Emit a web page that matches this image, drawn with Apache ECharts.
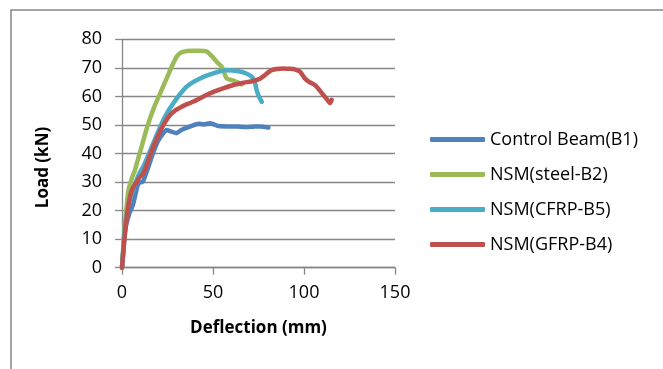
<!DOCTYPE html>
<html>
<head>
<meta charset="utf-8">
<script src="https://cdn.jsdelivr.net/npm/echarts@6/dist/echarts.min.js"></script>
<style>
  html, body { margin: 0; padding: 0; background: #fff; }
  #chart { width: 663px; height: 369px; }
</style>
</head>
<body>
<div id="chart"></div>
<script>
// Load-deflection curves (deflection in mm, load in kN)
const seriesNames = ['Control Beam(B1)', 'NSM(steel-B2)', 'NSM(CFRP-B5)', 'NSM(GFRP-B4)'];
const seriesColors = ['#4F81BD', '#9BBB59', '#4BACC6', '#C0504D'];

const b1X = [0, 1, 2, 4, 6, 9, 11.5, 14.5, 17, 19.5, 22, 24.5, 27, 30, 32, 34.6, 38, 42, 45, 48.4, 50.5, 53, 58, 63, 68, 72, 76, 80.4];
const b1Y = [0, 8, 14, 19, 22, 29.5, 30.2, 35.4, 40, 44, 46.5, 48.2, 47.7, 47.1, 48, 48.8, 49.6, 50.4, 50.2, 50.6, 50.2, 49.6, 49.5, 49.5, 49.3, 49.4, 49.5, 49.1];

const b2X = [0, 1, 2, 3.5, 5.5, 7.1, 9, 10.8, 13, 15.4, 18, 20.9, 24, 27.3, 30, 32, 34, 37.4, 42, 46.5, 48.5, 50.5, 52.5, 54.8, 56, 57.5, 61.2, 65.8];
const b2Y = [0, 10, 18, 27, 31.5, 34.2, 38.5, 42.4, 47.5, 52.3, 56.8, 61, 65.5, 70.4, 73.9, 75.2, 75.7, 76, 76, 75.8, 74.6, 73.3, 71.8, 70.4, 68.5, 66.3, 65.5, 64.2];

const b5X = [0, 1, 2, 4, 7, 9.5, 11.7, 14.5, 17.2, 20, 22.7, 25.5, 28.2, 31.5, 35.5, 39, 42.9, 46.5, 50.2, 54, 57.5, 61, 64.8, 68, 71.3, 72.8, 74, 75.3, 76.8];
const b5Y = [0, 9, 16, 23, 29, 33, 35.4, 39.5, 43.6, 47.8, 51.7, 55, 57.6, 60.5, 63.4, 65, 66.3, 67.3, 68.1, 68.8, 69.2, 69.1, 68.7, 68.1, 66.9, 65.5, 62.2, 59.8, 58.1];

const b4X = [0, 0.8, 1.6, 3, 4.4, 6, 8.1, 9.8, 11.7, 14.5, 17.2, 20, 23, 26.4, 29.5, 32.8, 37, 41, 45.5, 50.2, 55.5, 61.2, 67, 72, 76, 78.6, 80.5, 82.3, 85, 88.6, 92, 94.1, 96, 97.8, 100.5, 103, 106, 108.5, 110.6, 112.8, 114.3, 115.2];
const b4Y = [0, 6, 12, 19.5, 24.9, 28, 30.1, 31.8, 33, 37.8, 42.4, 46.5, 50.3, 53.5, 55.2, 56.4, 57.6, 58.7, 60.2, 61.6, 62.8, 64, 64.8, 65.4, 66.3, 67.5, 68.5, 69.2, 69.6, 69.8, 69.7, 69.6, 69.2, 68.7, 66.3, 65, 64, 62.2, 60.5, 58.8, 57.6, 58.8];

const xTicks = [0, 50, 100, 150];
const yTicks = [0, 10, 20, 30, 40, 50, 60, 70, 80];

const pairs = (xs, ys) => xs.map((x, i) => [x, ys[i]]);
const curves = [pairs(b1X, b1Y), pairs(b2X, b2Y), pairs(b5X, b5Y), pairs(b4X, b4Y)];

const font = 'Open Sans';
const gray = '#868686';

const chart = echarts.init(document.getElementById('chart'), null, { renderer: 'canvas' });

const option = {
  animation: false,
  backgroundColor: '#fff',
  textStyle: { fontFamily: font, color: '#000' },
  // outer chart frame (left and top edges visible in the crop)
  graphic: [{
    type: 'rect',
    shape: { x: 11, y: 10, width: 700, height: 420 },
    style: { fill: 'none', stroke: gray, lineWidth: 1.5 },
    silent: true, z: -1
  }],
  grid: { left: 122, right: 268, top: 39.3, bottom: 101.3 },
  legend: {
    orient: 'vertical',
    left: 425,
    top: 125.5,
    icon: 'roundRect',
    itemWidth: 55,
    itemHeight: 5,
    itemGap: 17,
    textStyle: { fontFamily: font, fontSize: 18, color: '#000' },
    data: seriesNames
  },
  xAxis: {
    type: 'value',
    min: 0, max: 150, interval: 50,
    name: 'Deflection (mm)',
    nameLocation: 'middle',
    nameGap: 52,
    nameTextStyle: { fontFamily: font, fontSize: 17, fontWeight: 'bold', color: '#000' },
    axisLine: { show: true, onZero: false, lineStyle: { color: gray, width: 1.3 } },
    axisTick: { show: true, length: 7, lineStyle: { color: gray, width: 1.3 } },
    axisLabel: { margin: 16, fontSize: 18, color: '#000',
      formatter: v => xTicks.includes(v) ? String(v) : '' },
    splitLine: { show: false }
  },
  yAxis: {
    type: 'value',
    min: 0, max: 80, interval: 10,
    name: 'Load (kN)',
    nameLocation: 'middle',
    nameGap: 70,
    nameRotate: 90,
    nameTextStyle: { fontFamily: font, fontSize: 17, fontWeight: 'bold', color: '#000', padding: [0, 28, 0, 0] },
    axisLine: { show: true, lineStyle: { color: gray, width: 1.3 } },
    axisTick: { show: true, length: 7, lineStyle: { color: gray, width: 1.3 } },
    axisLabel: { margin: 20, fontSize: 18, color: '#000',
      formatter: v => yTicks.includes(v) ? String(v) : '' },
    splitLine: { show: true, lineStyle: { color: gray, width: 1.3 } }
  },
  series: curves.map((data, i) => ({
    name: seriesNames[i],
    type: 'line',
    data: data,
    smooth: 0.2,
    symbol: 'none',
    color: seriesColors[i],
    lineStyle: { width: 4.5, color: seriesColors[i], cap: 'round', join: 'round' },
    z: 2 + i
  }))
};

chart.setOption(option);
</script>
</body>
</html>
